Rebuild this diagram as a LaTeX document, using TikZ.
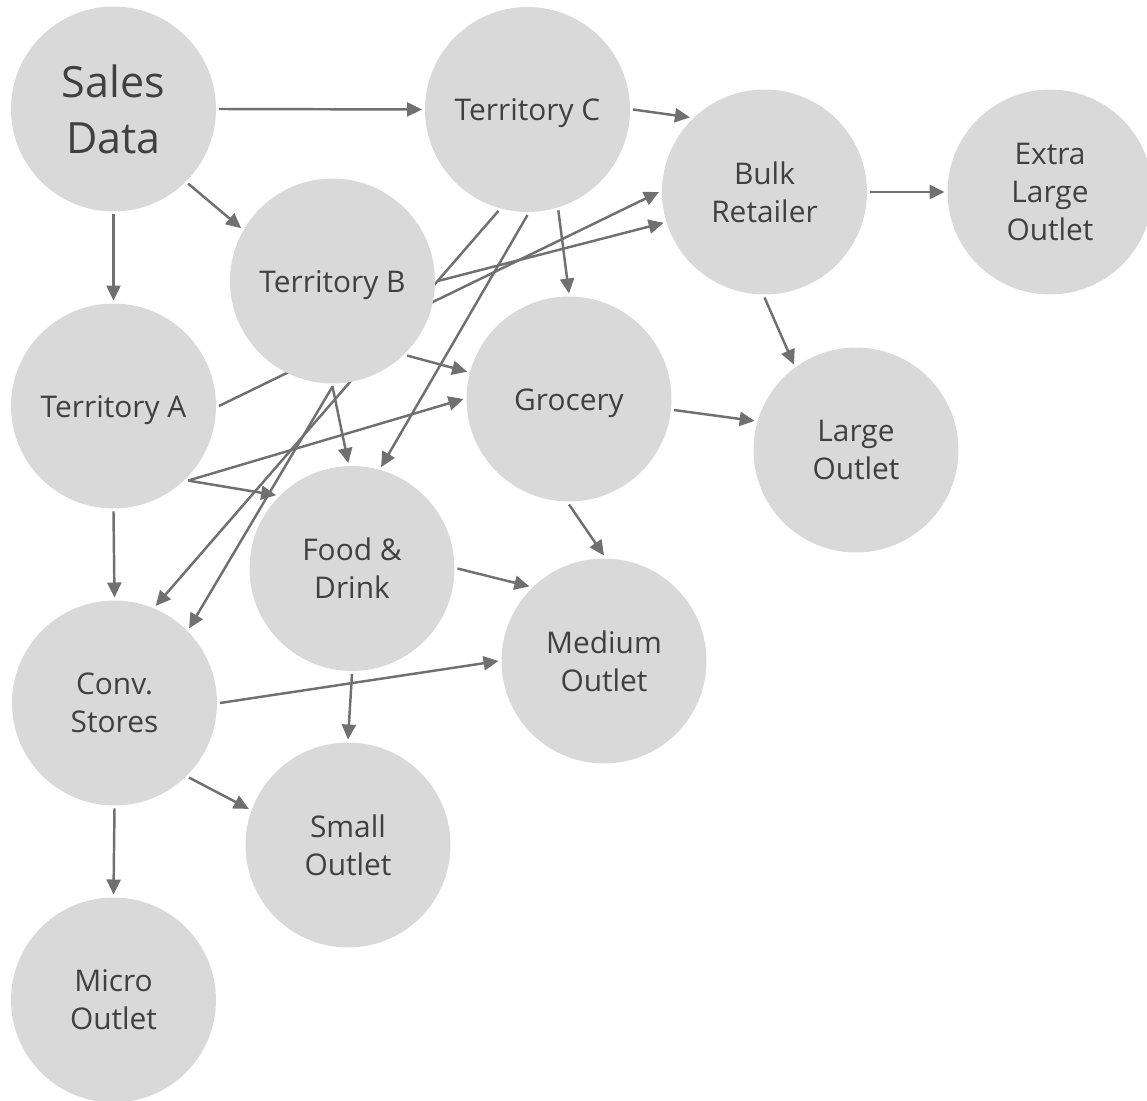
\documentclass[tikz,border=0pt]{standalone}
\usepackage{fontspec}
\setmainfont{Open Sans}
\usetikzlibrary{arrows.meta,backgrounds}
\definecolor{bubblegray}{HTML}{D9D9D9}
\definecolor{linkgray}{HTML}{707070}
\definecolor{textgray}{HTML}{404040}
\tikzset{%
	bubble/.style = {circle, fill=bubblegray, minimum size=4.1cm, inner sep=0pt, outer sep=0.06cm, align=center, text=textgray, font=\fontsize{17}{21.8}\selectfont},
	oneline/.style = {text height=16.8pt, text depth=4.1pt},
	big/.style    = {font=\fontsize{24.5}{32}\selectfont},
	link/.style   = {line width=1.4pt, draw=linkgray, -{Triangle[length=0.3cm,width=0.28cm]}},
}
\begin{document}
\begin{tikzpicture}[x=0.02cm,y=-0.02cm]
	\useasboundingbox (0,0) rectangle (1147,1101);
	\node[bubble,big] (sd) at (113.5,109) {Sales\\Data};
	\node[bubble,oneline] (tc) at (527.5,109.5) {Territory C};
	\node[bubble] (br) at (764.5,192) {Bulk\\Retailer};
	\node[bubble] (xl) at (1050,192) {Extra\\Large\\Outlet};
	\node[bubble,oneline] (tb) at (332.5,281) {Territory B};
	\node[bubble,oneline] (ta) at (113.5,406) {Territory A};
	\node[bubble,oneline] (gr) at (569,399) {Grocery};
	\node[bubble] (lo) at (856,450) {Large\\Outlet};
	\node[bubble] (fd) at (352,568.5) {Food \&\\Drink};
	\node[bubble] (mo) at (604,661) {Medium\\Outlet};
	\node[bubble] (cs) at (114.5,703) {Conv.\\Stores};
	\node[bubble] (so) at (348,845) {Small\\Outlet};
	\node[bubble] (mi) at (113.5,1000) {Micro\\Outlet};
	\begin{pgfonlayer}{background}
	\draw[link] (sd.0) -- (tc.180);
	\draw[link] (sd.-45) -- (tb.150);
	\draw[link] (sd.-90) -- (ta.90);
	\draw[link] (tc.0) -- (br.135);
	\draw[link] (tc.-73) -- (gr.90);
	\draw[link] (tc.-90) -- (fd.74);
	\draw[link] (tc.-106) -- (cs.67);
	\draw[link] (tb.0) -- (br.197);
	\draw[link] (tb.-45) -- (gr.165);
	\draw[link] (tb.-90) -- (fd.92);
	\draw[link] (tb.-90) -- (cs.45);
	\draw[link] (ta.0) -- (br.180);
	\draw[link] (ta.-45) -- (gr.180);
	\draw[link] (ta.-45) -- (fd.136);
	\draw[link] (ta.-90) -- (cs.90);
	\draw[link] (gr.-6) -- (lo.164);
	\draw[link] (gr.-90) -- (mo.90);
	\draw[link] (br.0) -- (xl.180);
	\draw[link] (br.-90) -- (lo.126);
	\draw[link] (fd.0) -- (mo.135);
	\draw[link] (fd.-90) -- (so.90);
	\draw[link] (cs.0) -- (mo.180);
	\draw[link] (cs.-45) -- (so.160);
	\draw[link] (cs.-90) -- (mi.90);
	\end{pgfonlayer}
\end{tikzpicture}
\end{document}
